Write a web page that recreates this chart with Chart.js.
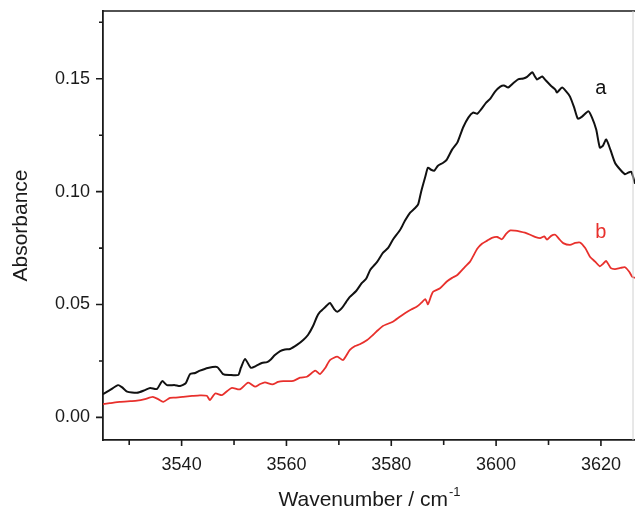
<!doctype html>
<html>
<head>
<meta charset="utf-8" />
<title>Absorbance</title>
<script src="https://cdn.jsdelivr.net/npm/chart.js@4.4.1/dist/chart.umd.min.js"></script>
<style>
  body { margin: 0; background: #fff; }
</style>
</head>
<body>
<canvas id="irChart" width="635" height="508"></canvas>
<script>
    // spectrum a (black)
    var waveA = [3525.0, 3526.3, 3527.9, 3528.6, 3529.6, 3531.5, 3533.0, 3534.0, 3535.3, 3536.3, 3537.2, 3538.7, 3539.7, 3540.8, 3541.6, 3542.6, 3543.5, 3545.0, 3546.8, 3547.9, 3549.2, 3550.8, 3551.3, 3552.1, 3553.2, 3554.2, 3555.3, 3556.3, 3556.9, 3557.8, 3558.8, 3559.7, 3560.7, 3562.0, 3563.2, 3564.1, 3565.1, 3565.8, 3566.4, 3567.4, 3568.3, 3569.1, 3569.7, 3570.6, 3571.4, 3572.1, 3573.3, 3574.4, 3575.2, 3576.0, 3577.3, 3578.4, 3579.4, 3580.3, 3581.7, 3582.6, 3583.6, 3584.4, 3585.1, 3585.7, 3586.5, 3587.0, 3587.6, 3588.2, 3588.9, 3589.9, 3590.6, 3591.6, 3592.6, 3593.7, 3594.7, 3595.6, 3596.4, 3597.1, 3598.1, 3598.9, 3599.8, 3600.8, 3601.5, 3602.3, 3603.2, 3604.2, 3605.2, 3605.9, 3606.9, 3607.4, 3607.8, 3608.4, 3608.8, 3609.5, 3610.5, 3611.3, 3611.6, 3612.6, 3613.4, 3614.1, 3614.9, 3615.6, 3616.4, 3617.6, 3618.3, 3619.1, 3619.8, 3620.4, 3621.0, 3621.8, 3622.7, 3623.7, 3624.6, 3625.2, 3625.8, 3626.5];
    var absA = [0.0103, 0.0121, 0.0143, 0.0134, 0.0114, 0.0109, 0.0121, 0.0130, 0.0126, 0.0161, 0.0143, 0.0143, 0.0139, 0.0152, 0.0192, 0.0197, 0.0207, 0.0219, 0.0223, 0.0192, 0.0188, 0.0188, 0.0219, 0.0259, 0.0220, 0.0228, 0.0241, 0.0245, 0.0254, 0.0276, 0.0294, 0.0301, 0.0303, 0.0321, 0.0343, 0.0365, 0.0406, 0.0445, 0.0467, 0.0489, 0.0507, 0.0480, 0.0468, 0.0485, 0.0512, 0.0534, 0.0560, 0.0596, 0.0614, 0.0654, 0.0689, 0.0729, 0.0751, 0.0787, 0.0831, 0.0871, 0.0907, 0.0924, 0.0942, 0.1000, 0.1067, 0.1106, 0.1097, 0.1093, 0.1115, 0.1128, 0.1142, 0.1186, 0.1217, 0.1284, 0.1328, 0.1350, 0.1345, 0.1363, 0.1394, 0.1412, 0.1443, 0.1465, 0.1470, 0.1461, 0.1479, 0.1497, 0.1501, 0.1508, 0.1529, 0.1510, 0.1497, 0.1505, 0.1510, 0.1492, 0.1468, 0.1452, 0.1439, 0.1461, 0.1443, 0.1421, 0.1372, 0.1323, 0.1332, 0.1356, 0.1328, 0.1275, 0.1195, 0.1204, 0.1231, 0.1186, 0.1127, 0.1097, 0.1077, 0.1084, 0.1088, 0.1035];

    // spectrum b (red)
    var waveB = [3525.0, 3526.3, 3528.2, 3530.2, 3531.5, 3533.0, 3534.5, 3535.5, 3536.5, 3537.8, 3538.9, 3540.3, 3542.0, 3543.5, 3544.8, 3545.4, 3546.4, 3547.7, 3548.7, 3549.6, 3551.1, 3552.7, 3554.0, 3555.0, 3555.9, 3557.3, 3558.4, 3559.4, 3561.3, 3562.6, 3563.9, 3565.5, 3566.4, 3567.4, 3568.3, 3569.7, 3570.8, 3572.1, 3573.1, 3574.0, 3575.4, 3576.5, 3577.5, 3578.4, 3580.3, 3581.7, 3582.6, 3583.8, 3584.9, 3585.7, 3586.5, 3587.0, 3587.6, 3588.0, 3589.3, 3590.6, 3591.6, 3592.6, 3594.1, 3595.0, 3595.6, 3596.4, 3597.3, 3598.3, 3599.2, 3600.2, 3601.1, 3601.9, 3602.7, 3603.6, 3604.6, 3605.5, 3606.5, 3607.4, 3608.4, 3609.2, 3609.7, 3610.5, 3611.3, 3612.0, 3612.8, 3614.1, 3615.1, 3616.0, 3617.0, 3617.9, 3618.9, 3619.8, 3620.4, 3621.0, 3621.9, 3622.7, 3623.7, 3624.6, 3625.4, 3626.0, 3626.5];
    var absB = [0.0059, 0.0063, 0.0069, 0.0072, 0.0074, 0.0081, 0.0091, 0.0081, 0.0069, 0.0087, 0.0088, 0.0091, 0.0095, 0.0098, 0.0096, 0.0077, 0.0106, 0.0099, 0.0117, 0.0131, 0.0124, 0.0154, 0.0136, 0.0148, 0.0155, 0.0146, 0.0157, 0.0161, 0.0162, 0.0176, 0.0180, 0.0207, 0.0192, 0.0219, 0.0254, 0.0269, 0.0254, 0.0299, 0.0316, 0.0324, 0.0343, 0.0365, 0.0387, 0.0405, 0.0424, 0.0447, 0.0461, 0.0478, 0.0491, 0.0507, 0.0524, 0.0501, 0.0538, 0.0557, 0.0572, 0.0602, 0.0618, 0.0631, 0.0668, 0.0689, 0.0713, 0.0747, 0.0769, 0.0783, 0.0795, 0.0799, 0.0789, 0.0813, 0.0828, 0.0827, 0.0823, 0.0818, 0.0809, 0.0800, 0.0794, 0.0802, 0.0787, 0.0804, 0.0809, 0.0791, 0.0772, 0.0764, 0.0773, 0.0775, 0.0750, 0.0712, 0.0690, 0.0669, 0.0680, 0.0693, 0.0661, 0.0657, 0.0662, 0.0665, 0.0645, 0.0622, 0.0618];

    var xTicks = [3530, 3540, 3550, 3560, 3570, 3580, 3590, 3600, 3610, 3620];
    var yTicks = [0, 0.025, 0.05, 0.075, 0.1, 0.125, 0.15, 0.175];

    // curve labels
    var curveNames = ['a', 'b'];
    var curveColors = ['#111111', '#e8302c'];
    var curveLabelX = [3620, 3620];
    var curveLabelY = [0.1434, 0.0795];

    var FONT = '"Liberation Sans", Arial, sans-serif';

    function toPoints(xs, ys) {
        return xs.map(function (x, i) { return { x: x, y: ys[i] }; });
    }

    function isMajorX(v) { return v % 20 === 0; }
    function isMajorY(v) { return Math.abs(v / 0.05 - Math.round(v / 0.05)) < 1e-6; }

    // tick marks (major longer than minor), top/right frame, titles and curve labels
    var decorPlugin = {
        id: 'decor',
        afterDraw: function (chart) {
            var ctx = chart.ctx;
            var area = chart.chartArea;
            var xs = chart.scales.x, ys = chart.scales.y;
            ctx.save();
            ctx.strokeStyle = '#1a1a1a';
            ctx.lineWidth = 1.6;
            ctx.beginPath();
            xs.ticks.forEach(function (t) {
                var px = xs.getPixelForValue(t.value);
                var len = isMajorX(t.value) ? 6 : 5;
                ctx.moveTo(px, area.bottom);
                ctx.lineTo(px, area.bottom + len);
            });
            ys.ticks.forEach(function (t) {
                var py = ys.getPixelForValue(t.value);
                var len = isMajorY(t.value) ? 7 : 4;
                ctx.moveTo(area.left, py);
                ctx.lineTo(area.left - len, py);
            });
            // top frame
            ctx.moveTo(area.left, area.top);
            ctx.lineTo(area.right, area.top);
            ctx.stroke();

            // faint right edge of the cropped frame
            ctx.strokeStyle = '#d0d0d0';
            ctx.lineWidth = 1;
            ctx.beginPath();
            ctx.moveTo(area.right - 2, area.top);
            ctx.lineTo(area.right - 2, area.bottom);
            ctx.stroke();

            // y title
            ctx.fillStyle = '#1a1a1a';
            ctx.font = '21px ' + FONT;
            ctx.textAlign = 'center';
            ctx.textBaseline = 'middle';
            ctx.save();
            ctx.translate(21, (area.top + area.bottom) / 2);
            ctx.rotate(-Math.PI / 2);
            ctx.fillText('Absorbance', 0, 0);
            ctx.restore();

            // x title with superscript
            ctx.textBaseline = 'alphabetic';
            ctx.textAlign = 'left';
            var main = 'Wavenumber / cm';
            ctx.font = '21px ' + FONT;
            var w1 = ctx.measureText(main).width;
            ctx.font = '13px ' + FONT;
            var w2 = ctx.measureText('-1').width;
            var x0 = (area.left + area.right) / 2 - (w1 + w2) / 2;
            ctx.font = '21px ' + FONT;
            ctx.fillText(main, x0, 506);
            ctx.font = '13px ' + FONT;
            ctx.fillText('-1', x0 + w1 + 1, 496);

            // curve labels
            ctx.font = '20px ' + FONT;
            ctx.textAlign = 'center';
            curveNames.forEach(function (n, i) {
                ctx.fillStyle = curveColors[i];
                ctx.fillText(n, xs.getPixelForValue(curveLabelX[i]), ys.getPixelForValue(curveLabelY[i]));
            });
            ctx.restore();
        }
    };

    var ctx = document.getElementById('irChart').getContext('2d');
    var irChart = new Chart(ctx, {
        type: 'line',
        data: {
            datasets: [{
                label: 'a',
                data: toPoints(waveA, absA),
                borderColor: curveColors[0],
                borderWidth: 2,
                pointRadius: 0,
                fill: false,
                tension: 0.2
            }, {
                label: 'b',
                data: toPoints(waveB, absB),
                borderColor: curveColors[1],
                borderWidth: 1.8,
                pointRadius: 0,
                fill: false,
                tension: 0.2
            }]
        },
        options: {
            responsive: false,
            animation: false,
            devicePixelRatio: 1,
            layout: { padding: { top: 11, left: 0, right: 0, bottom: 0 } },
            plugins: { legend: { display: false }, tooltip: { enabled: false } },
            scales: {
                x: {
                    type: 'linear',
                    min: 3525,
                    max: 3626.5,
                    afterBuildTicks: function (scale) {
                        scale.ticks = xTicks.map(function (v) { return { value: v }; });
                    },
                    afterFit: function (scale) {
                        scale.height = 68;
                        scale.paddingLeft = 0;
                        scale.paddingRight = 0;
                    },
                    grid: { display: false, drawTicks: false },
                    border: { display: true, color: '#1a1a1a', width: 1.8 },
                    ticks: {
                        autoSkip: false,
                        maxRotation: 0,
                        padding: 14,
                        color: '#1a1a1a',
                        font: { family: FONT, size: 18 },
                        callback: function (v) { return isMajorX(v) ? String(v) : ''; }
                    }
                },
                y: {
                    min: -0.01,
                    max: 0.18,
                    afterBuildTicks: function (scale) {
                        scale.ticks = yTicks.map(function (v) { return { value: v }; });
                    },
                    afterFit: function (scale) {
                        scale.width = 103;
                        scale.paddingTop = 0;
                        scale.paddingBottom = 0;
                    },
                    grid: { display: false, drawTicks: false },
                    border: { display: true, color: '#1a1a1a', width: 1.8 },
                    ticks: {
                        autoSkip: false,
                        padding: 13,
                        color: '#1a1a1a',
                        font: { family: FONT, size: 18 },
                        callback: function (v) { return isMajorY(v) ? v.toFixed(2) : ''; }
                    }
                }
            }
        },
        plugins: [decorPlugin]
    });
</script>
</body>
</html>
